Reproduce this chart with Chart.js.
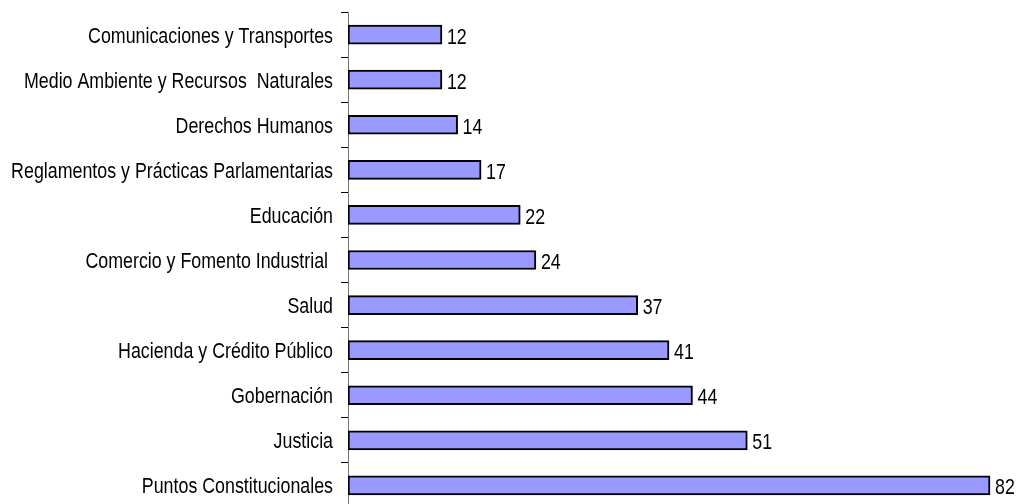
<!DOCTYPE html>
<html>
<head>
<meta charset="utf-8">
<script src="https://cdn.jsdelivr.net/npm/chart.js@4.4.1/dist/chart.umd.min.js"></script>
<style>
  html, body { margin: 0; padding: 0; background: #fff; overflow: hidden; }
  canvas { display: block; }
</style>
</head>
<body>
<canvas id="myChart" width="1016" height="512"></canvas>
<script>
// categories, top to bottom
var categories = [
  'Comunicaciones y Transportes',
  'Medio Ambiente y Recursos  Naturales',
  'Derechos Humanos',
  'Reglamentos y Prácticas Parlamentarias',
  'Educación',
  'Comercio y Fomento Industrial ',
  'Salud',
  'Hacienda y Crédito Público',
  'Gobernación',
  'Justicia',
  'Puntos Constitucionales'
];
var values = [12, 12, 14, 17, 22, 24, 37, 41, 44, 51, 82];

var FONT = "'Liberation Sans', Arial, sans-serif";
var SQUEEZE = 0.81; // the original font is a narrow one

function narrowText(ctx, text, x, y, align) {
  ctx.save();
  ctx.translate(x, y);
  ctx.scale(SQUEEZE, 1);
  ctx.textAlign = align;
  ctx.fillText(text, 0, 0);
  ctx.restore();
}

// category names on the left and the number at the end of each bar
var textLayer = {
  id: 'textLayer',
  afterDraw: function (chart) {
    var ctx = chart.ctx;
    var yScale = chart.scales.y;
    var meta = chart.getDatasetMeta(0);
    ctx.save();
    ctx.font = '22px ' + FONT;
    ctx.fillStyle = '#000';
    ctx.textBaseline = 'alphabetic';
    categories.forEach(function (name, i) {
      narrowText(ctx, name, yScale.right - 15, yScale.getPixelForTick(i) + 8, 'right');
    });
    meta.data.forEach(function (bar, i) {
      narrowText(ctx, String(values[i]), bar.x + 5, bar.y + 9, 'left');
    });
    ctx.restore();
  }
};

var ctx = document.getElementById('myChart').getContext('2d');
var chart = new Chart(ctx, {
  type: 'bar',
  data: {
    labels: categories,
    datasets: [{
      data: values,
      backgroundColor: '#9999FF',
      borderColor: '#000',
      borderWidth: 2,
      borderSkipped: false,
      barThickness: 19
    }]
  },
  options: {
    indexAxis: 'y',
    responsive: false,
    animation: false,
    layout: { padding: { top: 12, bottom: 4, left: 0, right: 2.5 } },
    plugins: {
      legend: { display: false },
      tooltip: { enabled: false }
    },
    scales: {
      x: {
        display: false,
        min: 0,
        max: 85
      },
      y: {
        afterFit: function (scale) { scale.width = 348; },
        border: { display: true, color: '#777', width: 1 },
        grid: {
          offset: true,
          drawOnChartArea: false,
          drawTicks: true,
          tickLength: 7,
          color: '#000'
        },
        ticks: { display: false }
      }
    }
  },
  plugins: [textLayer]
});
</script>
</body>
</html>
